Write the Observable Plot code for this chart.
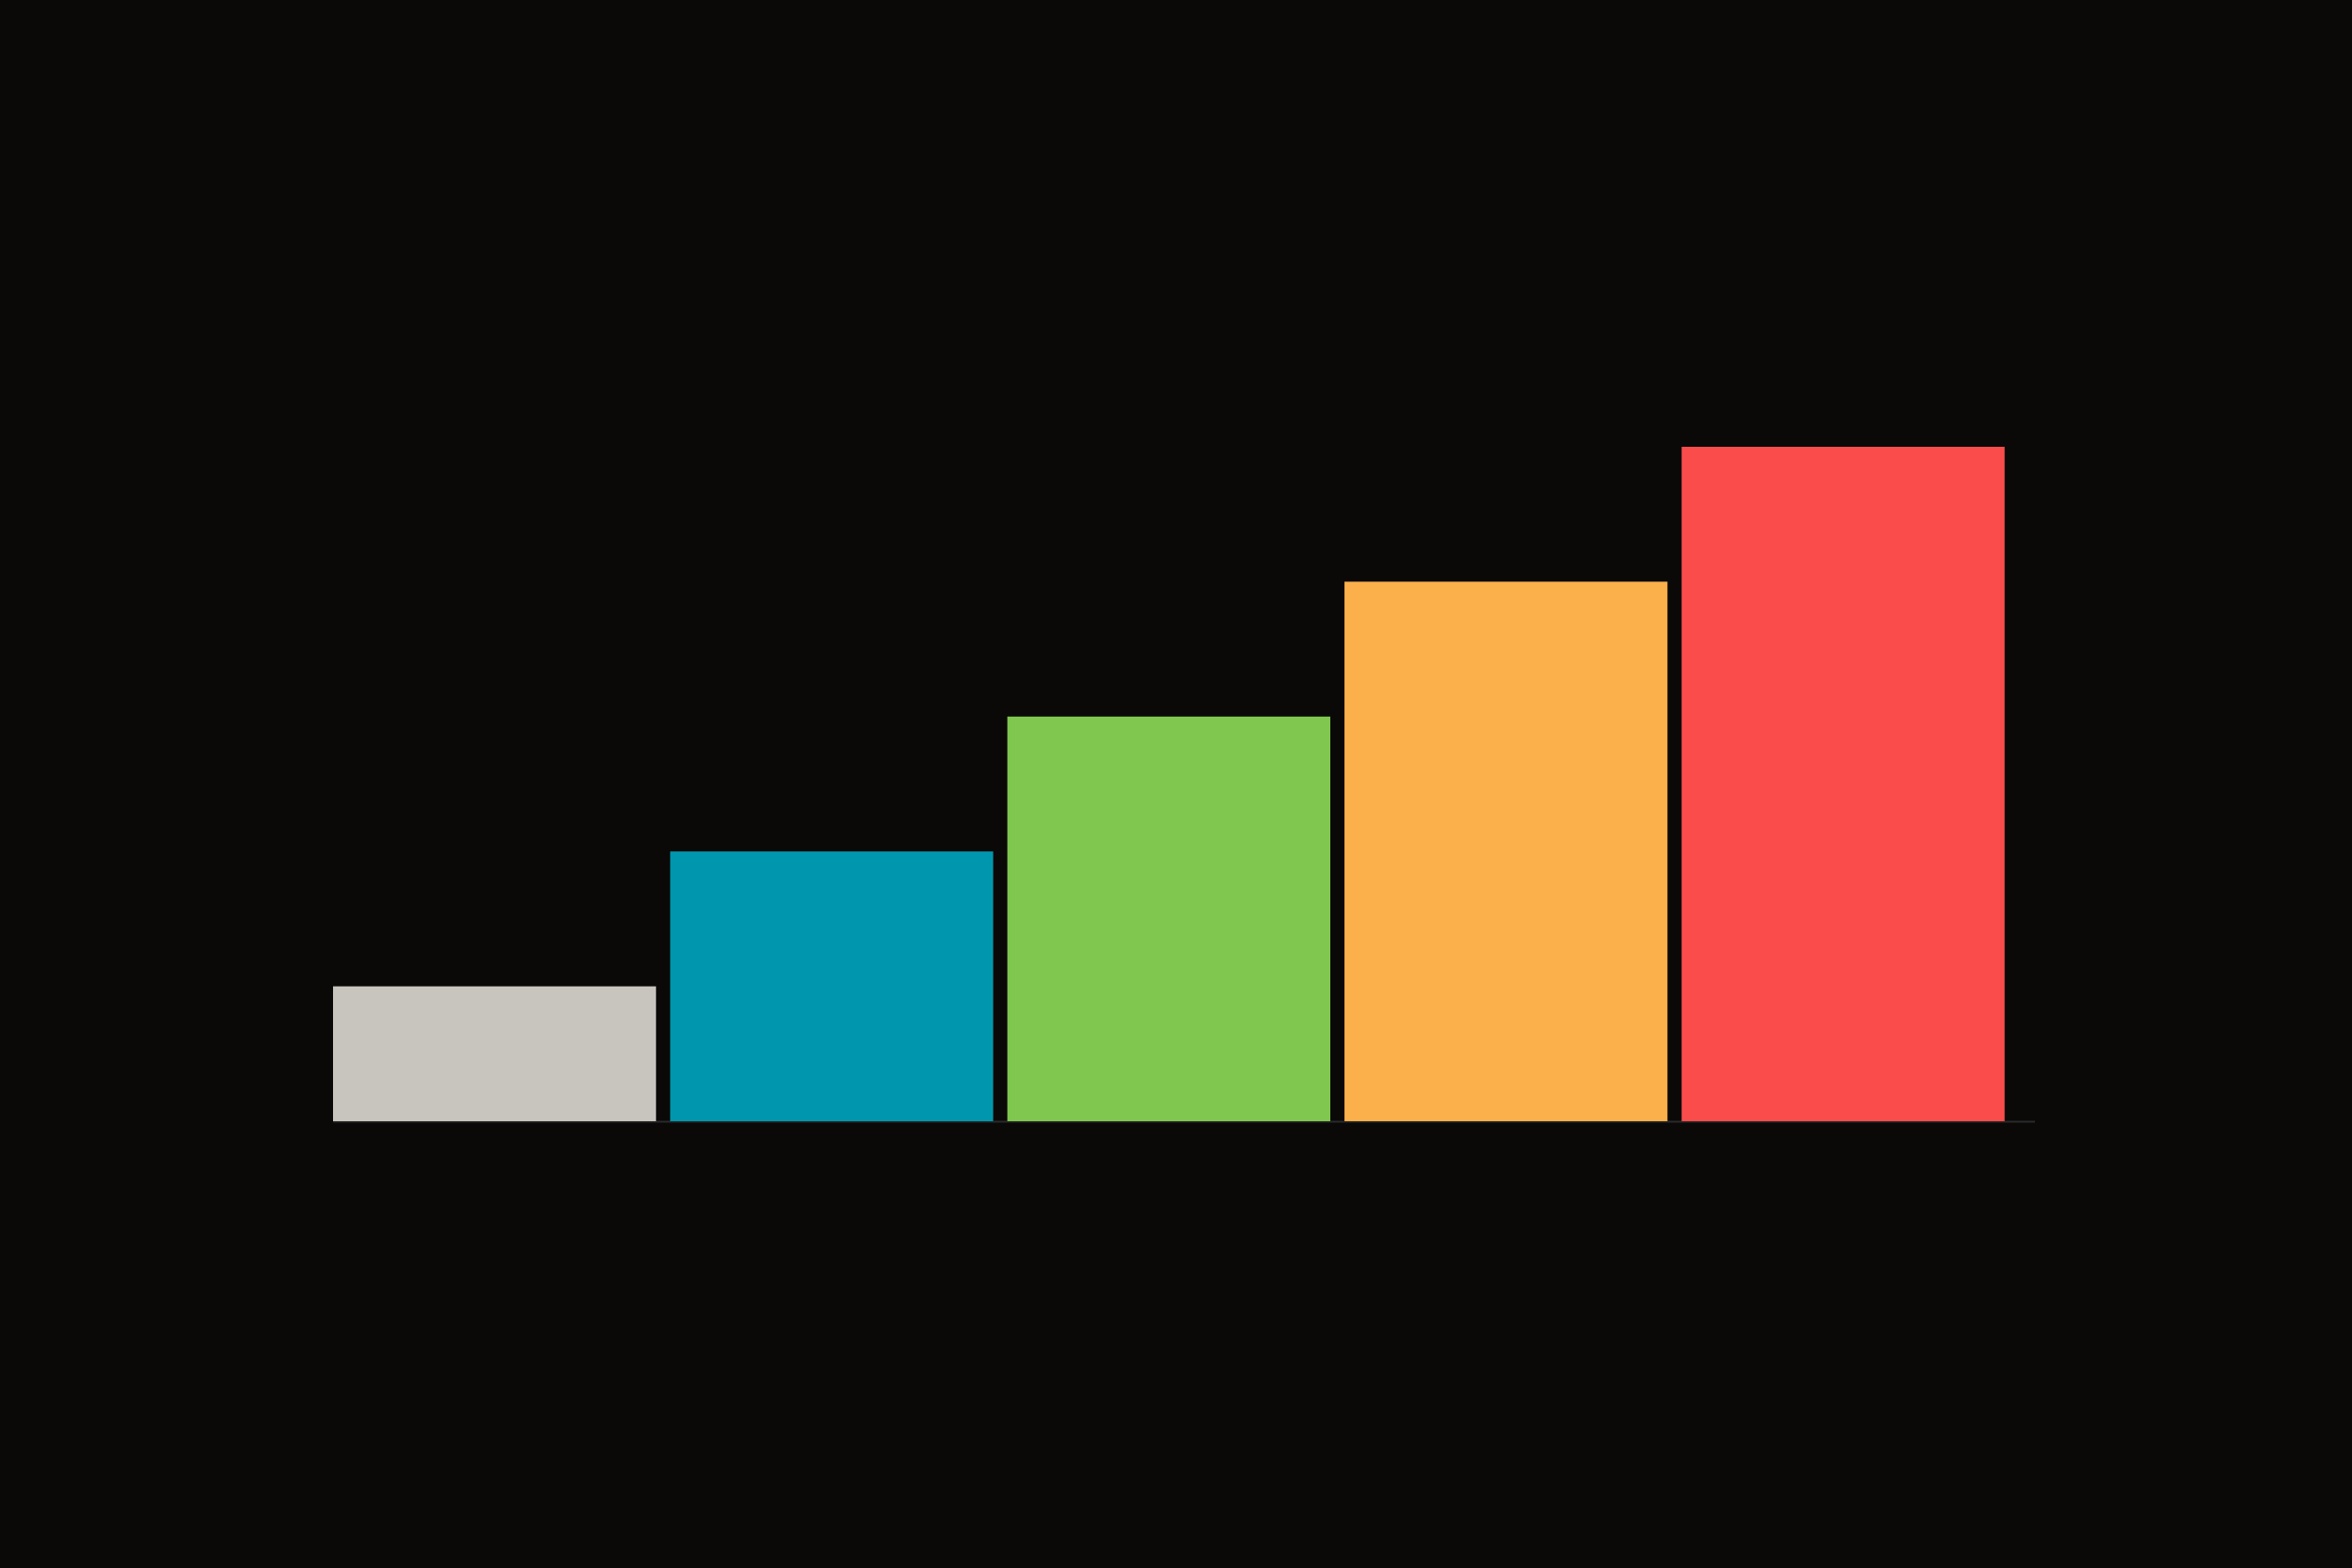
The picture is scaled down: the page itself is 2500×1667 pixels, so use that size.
<!DOCTYPE html>
<html>
<head>
<meta charset="utf-8">
<script src="https://cdn.jsdelivr.net/npm/d3@7"></script>
<script src="https://cdn.jsdelivr.net/npm/@observablehq/plot@0.6"></script>
<style>
  html, body { margin: 0; padding: 0; background: #0a0908; overflow: hidden; }
  #chart svg { display: block; }
</style>
</head>
<body>
<div id="chart"></div>
<script>
const categories = ["A", "B", "C", "D", "E"];
const values = [1, 2, 3, 4, 5];
const colors = ["#c8c5be", "#0097ae", "#7fc74e", "#fbb04c", "#fa4d4b"];

const data = categories.map((c, i) => ({category: c, value: values[i]}));

const chart = Plot.plot({
  width: 2500,
  height: 1667,
  marginLeft: 354,
  marginRight: 337,
  marginTop: 475,
  marginBottom: 475,
  style: {background: "#0a0908"},
  x: {domain: categories, paddingInner: 0.042, paddingOuter: 0.045, align: 0, round: false, axis: null},
  y: {domain: [0, 5], axis: null},
  color: {domain: categories, range: colors},
  marks: [
    Plot.ruleY([0], {stroke: "#2a2a2a", strokeWidth: 2}),
    Plot.barY(data, {x: "category", y: "value", fill: "category"})
  ]
});
document.getElementById("chart").appendChild(chart);
</script>
</body>
</html>
